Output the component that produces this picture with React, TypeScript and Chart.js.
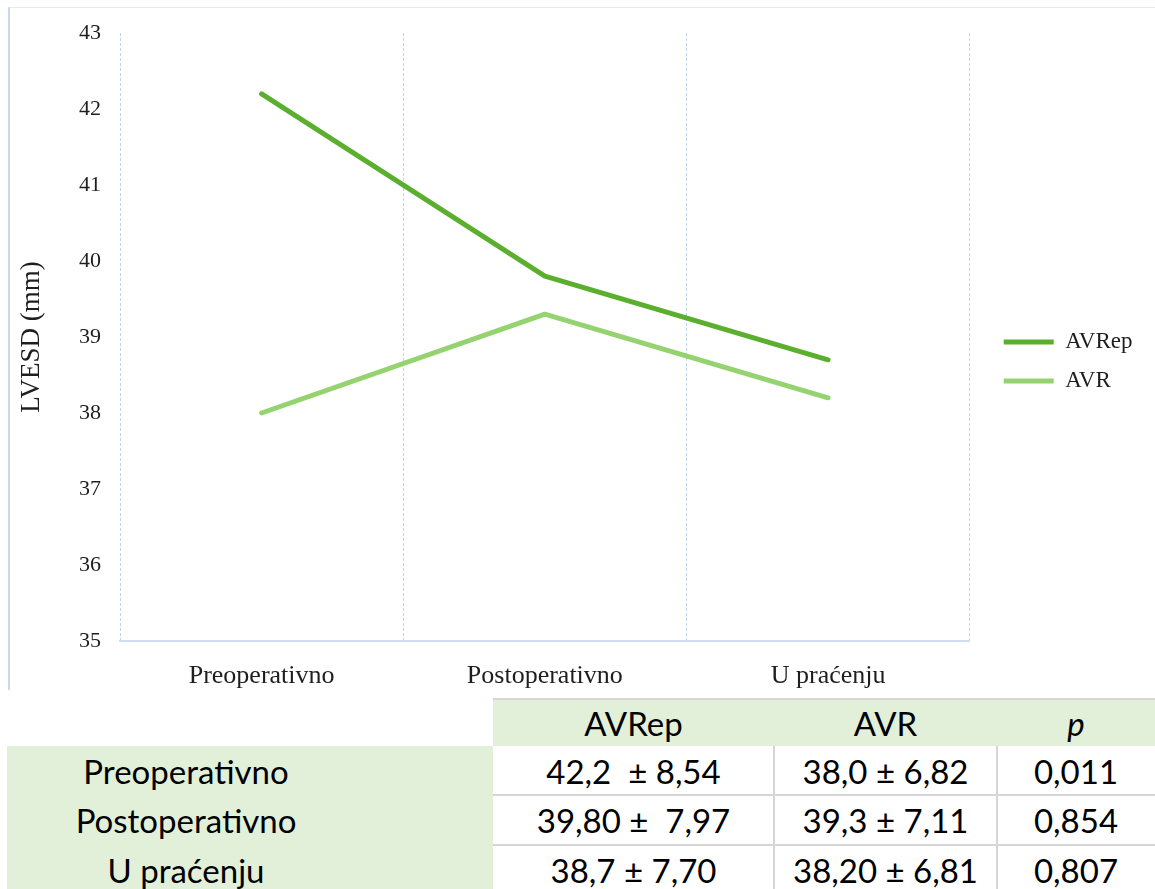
import React, { useEffect, useRef } from 'react';
import { Chart, registerables, layouts } from 'chart.js';

Chart.register(...registerables);

// ---- chart data ----
const categories = ['Preoperativno', 'Postoperativno', 'U praćenju'];
const seriesNames = ['AVRep', 'AVR'];
const avrepValues = [42.2, 39.8, 38.7];
const avrValues = [38.0, 39.3, 38.2];
const yTitle = 'LVESD (mm)';
const yMin = 35;
const yMax = 43;
const yStep = 1;

// ---- table data ----
const tableHeader = ['AVRep', 'AVR', 'p'];
const tableRowLabels = ['Preoperativno', 'Postoperativno', 'U praćenju'];
const tableAvrep = ['42,2  ± 8,54', '39,80 ±  7,97', '38,7 ± 7,70'];
const tableAvr = ['38,0 ± 6,82', '39,3 ± 7,11', '38,20 ± 6,81'];
const tableP = ['0,011', '0,854', '0,807'];

const SERIF = '"Liberation Serif", "Times New Roman", serif';
const SANS = 'Lato, "Open Sans", sans-serif';
const DARK = '#5aaf2e';
const LIGHT = '#94d36f';
const GRID = '#c3d3ee';
const TXT = '#1e1e1e';

const LEGEND_GAP = 18;

const gapPlugin = {
  id: 'legendGap',
  beforeInit(chart: any) {
    const box: any = {
      position: 'right',
      weight: 500,
      fullSize: false,
      options: {},
      left: 0, top: 0, right: 0, bottom: 0, width: 0, height: 0,
      isHorizontal() { return false; },
      update(maxWidth: number, maxHeight: number) {
        this.width = LEGEND_GAP;
        this.height = maxHeight;
      },
      draw() {},
    };
    layouts.addBox(chart, box);
  },
};

function LineChart() {
  const ref = useRef<HTMLCanvasElement | null>(null);
  useEffect(() => {
    if (!ref.current) return;
    const chart = new Chart(ref.current, {
      type: 'line',
      data: {
        labels: categories,
        datasets: [
          {
            label: seriesNames[0],
            data: avrepValues,
            borderColor: DARK,
            backgroundColor: DARK,
            borderWidth: 5,
            pointRadius: 0,
            tension: 0,
            borderCapStyle: 'round',
            borderJoinStyle: 'round',
          },
          {
            label: seriesNames[1],
            data: avrValues,
            borderColor: LIGHT,
            backgroundColor: LIGHT,
            borderWidth: 5,
            pointRadius: 0,
            tension: 0,
            borderCapStyle: 'round',
            borderJoinStyle: 'round',
          },
        ],
      },
      plugins: [gapPlugin as any],
      options: {
        responsive: true,
        maintainAspectRatio: false,
        animation: false,
        layout: { padding: { top: 25, right: 12.5, bottom: 0, left: 0 } },
        plugins: {
          tooltip: { enabled: false },
          legend: {
            position: 'right',
            align: 'center',
            labels: {
              boxWidth: 50,
              boxHeight: 5,
              padding: 16,
              color: TXT,
              font: { family: SERIF, size: 23 },
              generateLabels: (c: any) =>
                Chart.defaults.plugins.legend.labels
                  .generateLabels(c)
                  .map((it: any) => ({ ...it, lineWidth: 0 })),
            },
          },
        },
        scales: {
          x: {
            offset: true,
            grid: {
              display: true,
              offset: true,
              color: GRID,
              lineWidth: 1,
              drawTicks: false,
            },
            border: { display: true, color: '#cfdcf1', width: 2, dash: [3, 2] },
            ticks: {
              padding: 20,
              color: TXT,
              font: { family: SERIF, size: 26 },
              maxRotation: 0,
            },
            afterFit: (s: any) => {
              s.height = 49;
            },
          },
          y: {
            min: yMin,
            max: yMax,
            ticks: {
              stepSize: yStep,
              padding: 19,
              color: TXT,
              font: { family: SERIF, size: 22 },
            },
            grid: { display: false, drawTicks: false },
            border: { display: false },
            title: {
              display: true,
              text: yTitle,
              color: TXT,
              font: { family: SERIF, size: 27 },
              padding: { top: 7, bottom: 0 },
            },
            afterFit: (s: any) => {
              s.width = 111;
              s.paddingTop = 0;
              s.paddingBottom = 0;
            },
          },
        },
      } as any,
    });
    return () => chart.destroy();
  }, []);
  return <canvas ref={ref} />;
}

function Cell(props: { x: number; y: number; w: number; h: number; text: string; italic?: boolean; bg?: string }) {
  return (
    <div
      style={{
        position: 'absolute',
        left: props.x,
        top: props.y,
        width: props.w,
        height: props.h,
        background: props.bg || 'transparent',
        display: 'flex',
        alignItems: 'center',
        justifyContent: 'center',
        fontFamily: SANS,
        fontSize: 33,
        fontStyle: props.italic ? 'italic' : 'normal',
        color: '#000',
        whiteSpace: 'pre',
      }}
    >
      {props.text}
    </div>
  );
}

export default function App() {
  const colX = [493, 774, 997];
  const colW = [281, 223, 158];
  const rowY = [746, 795, 845];
  const rowH = 50;
  const GREEN = '#e2f0d9';
  const LINE = '#d6d6d6';
  return (
    <div style={{ position: 'absolute', left: 0, top: 0, width: 1155, height: 889, overflow: 'hidden', background: '#fff' }}>
      {/* chart frame */}
      <div style={{ position: 'absolute', left: 8, top: 7, width: 1147, height: 683, borderTop: '1px solid #e3eaf4', borderLeft: '2px solid #c9d8ef', boxSizing: 'border-box' }} />
      <div style={{ position: 'absolute', left: 9, top: 8, width: 1146, height: 682 }}>
        <LineChart />
      </div>

      {/* table */}
      <div style={{ position: 'absolute', left: 493, top: 698, width: 662, height: 48, background: GREEN, borderTop: `2px solid ${LINE}`, boxSizing: 'border-box' }} />
      <div style={{ position: 'absolute', left: 7, top: 746, width: 486, height: 143, background: GREEN }} />
      {tableHeader.map((h, i) => (
        <Cell key={'h' + i} x={colX[i]} y={699} w={colW[i]} h={47} text={h} italic={i === 2} />
      ))}
      {tableRowLabels.map((r, i) => (
        <Cell key={'r' + i} x={7} y={rowY[i]} w={358} h={rowH} text={r} />
      ))}
      {[tableAvrep, tableAvr, tableP].map((col, ci) =>
        col.map((v, ri) => <Cell key={'c' + ci + ri} x={colX[ci]} y={rowY[ri]} w={colW[ci]} h={rowH} text={v} />)
      )}
      {[795, 845].map((y) => (
        <div key={'hl' + y} style={{ position: 'absolute', left: 493, top: y - 1, width: 662, height: 2, background: LINE }} />
      ))}
      {[774, 997].map((x) => (
        <div key={'vl' + x} style={{ position: 'absolute', left: x - 1, top: 746, width: 2, height: 143, background: LINE }} />
      ))}
    </div>
  );
}
